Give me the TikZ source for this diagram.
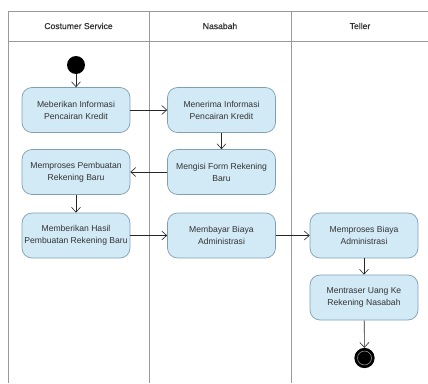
\documentclass[tikz,border=0pt]{standalone}
\usepackage{fontspec}
\setmainfont{Liberation Sans}
\newfontfamily\headfont[FakeBold=0.6]{Liberation Sans}
\usetikzlibrary{arrows.meta}
\definecolor{actfill}{HTML}{D2EAF6}
\definecolor{actdraw}{HTML}{7F9FB2}
\definecolor{lanecol}{HTML}{9A9A9A}
\definecolor{txt}{HTML}{333333}
\tikzset{
  act/.style={draw=actdraw, fill=actfill, rounded corners=10pt, line width=0.7pt,
    minimum width=108pt, minimum height=45pt, align=center, text=txt,
    font=\fontsize{8.6}{12}\selectfont, inner sep=0pt},
  flow/.style={draw=black!85, line width=0.6pt, -{Straight Barb[length=5pt,width=9pt]}},
  lane/.style={draw=lanecol, line width=0.6pt},
  head/.style={text=txt, font=\headfont\fontsize{8.6}{10}\selectfont},
}
\begin{document}
\begin{tikzpicture}[x=1pt,y=-1pt]
\useasboundingbox (0,0) rectangle (428,383);
% swimlanes
\draw[lane] (428,11) -- (8,11) -- (8,383);
\draw[lane] (8,41) -- (428,41);
\draw[lane] (149,11) -- (149,383);
\draw[lane] (291,11) -- (291,383);
\node[head] (h1) at (78.5,26) {Costumer Service};
\node[head] (h2) at (220,26) {Nasabah};
\node[head] (h3) at (360,26) {Teller};
% nodes
\node[circle, fill=black, minimum size=18pt, inner sep=0pt] (start) at (76,65) {};
\node[act] (a1) at (76,110) {Meberikan Informasi\\Pencairan Kredit};
\node[act] (a2) at (221.5,110) {Menerima Informasi\\Pencairan Kredit};
\node[act] (a3) at (221.5,172) {Mengisi Form Rekening\\Baru};
\node[act] (a4) at (76,172) {Memproses Pembuatan\\Rekening Baru};
\node[act] (a5) at (76,235.5) {Memberikan Hasil\\Pembuatan Rekening Baru};
\node[act] (a6) at (221.5,235.5) {Membayar Biaya\\Administrasi};
\node[act] (a7) at (364,235.5) {Memproses Biaya\\Administrasi};
\node[act] (a8) at (364,297.5) {Mentraser Uang Ke\\Rekening Nasabah};
\node[circle, fill=black, draw=black, line width=1.2pt, minimum size=19pt, inner sep=0pt] (end) at (364.5,358) {};
\draw[gray!70, line width=0.5pt] (end.center) circle (7pt);
% flows
\draw[flow] (start) -- (a1);
\draw[flow] (a1) -- (a2);
\draw[flow] (a2) -- (a3);
\draw[flow] (a3) -- (a4);
\draw[flow] (a4) -- (a5);
\draw[flow] (a5) -- (a6);
\draw[flow] (a6) -- (a7);
\draw[flow] (a7) -- (a8);
\draw[flow] (a8) -- (end);
\end{tikzpicture}
\end{document}
